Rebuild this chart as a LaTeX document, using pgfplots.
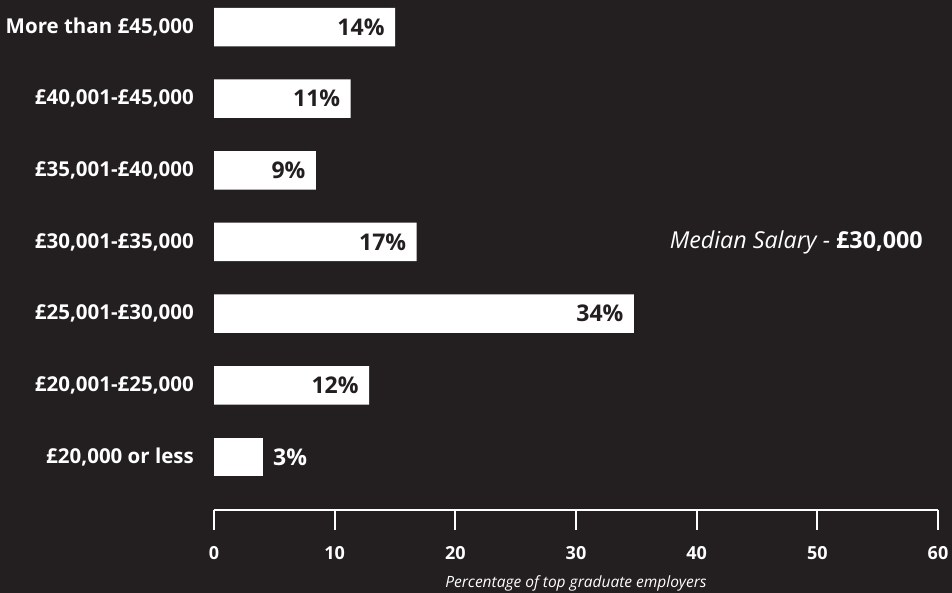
\documentclass[border=0pt]{standalone}
\usepackage{pgfplots}
\pgfplotsset{compat=1.18}
\usepackage{fontspec}
\setmainfont{Open Sans}
\definecolor{bg}{RGB}{35,31,32}
\begin{document}
\begin{tikzpicture}
\fill[bg] (0,0) rectangle (952pt,593pt);
\begin{axis}[
  at={(214pt,83pt)}, anchor=south west,
  scale only axis, width=724pt, height=510pt,
  xmin=0, xmax=60, ymin=-0.74, ymax=6.377,
  xbar, bar width=38.5pt, bar shift=0pt,
  axis x line*=bottom,
  axis y line*=left,
  x axis line style={white, line width=1.7pt, -},
  y axis line style={draw=none},
  xtick={0,10,...,60},
  tick align=outside,
  major tick length=20pt,
  xtick style={white, line width=1.7pt},
  ytick style={draw=none},
  /pgf/number format/assume math mode=true,
  xticklabel style={font=\fontsize{18}{20}\selectfont\bfseries, text=white, anchor=center, yshift=-23pt},
  ytick={0,...,6},
  yticklabels={{£20,000 or less},{£20,001-£25,000},{£25,001-£30,000},{£30,001-£35,000},{£35,001-£40,000},{£40,001-£45,000},{More than £45,000}},
  yticklabel style={font=\fontsize{20.5}{24}\selectfont\bfseries, text=white, anchor=east, inner sep=0pt, xshift=0pt},
  clip=false,
  xlabel={Percentage of top graduate employers},
  every axis x label/.style={at={(axis description cs:0.5,0)}, anchor=center, yshift=-73pt, font=\fontsize{15.5}{17}\selectfont\itshape, text=white},
  nodes near coords,
  point meta=explicit symbolic,
]
\addplot[fill=white, draw=none,
  nodes near coords style={anchor=east, xshift=-7pt, text=bg, font=\fontsize{23}{25}\selectfont\bfseries}]
  table[meta=lab, y=y, x=x] {
  x y lab
  12.85 1 12\%
  34.8 2 34\%
  16.8 3 17\%
  8.45 4 9\%
  11.33 5 11\%
  15.0 6 14\%
};
\addplot[fill=white, draw=none,
  nodes near coords style={anchor=west, xshift=7pt, text=white, font=\fontsize{23}{25}\selectfont\bfseries}]
  table[meta=lab, y=y, x=x] {
  x y lab
  4.03 0 3\%
};
\node[anchor=east, inner sep=0pt, text=white, font=\fontsize{23.3}{26}\selectfont] at (axis cs:58.75,3) {\itshape Median Salary - \bfseries\upshape £30,000};
\end{axis}
\pgfresetboundingbox
\useasboundingbox (0,0) rectangle (952pt,593pt);
\end{tikzpicture}
\end{document}
